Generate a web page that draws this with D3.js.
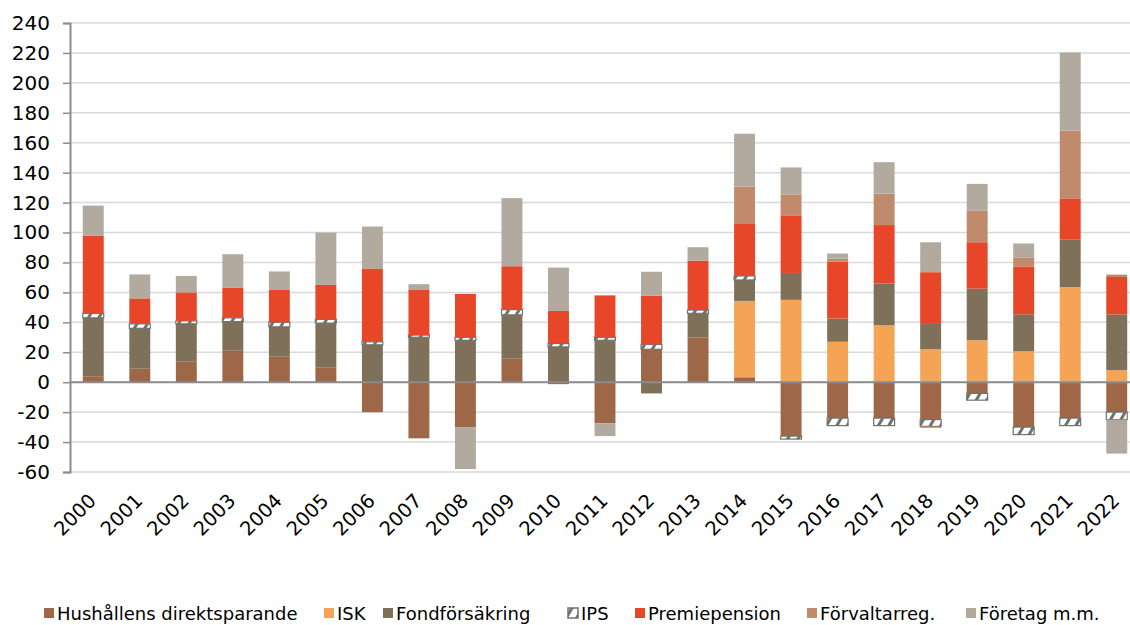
<!DOCTYPE html>
<html>
<head>
<meta charset="utf-8">
<script src="https://cdn.jsdelivr.net/npm/d3@7"></script>
<style>
  html, body { margin: 0; padding: 0; background: #fff; }
  svg { display: block; font-family: "DejaVu Sans", Verdana, sans-serif; }
</style>
</head>
<body>
<svg id="chart" width="1130" height="625"></svg>
<script>
const years = ["2000","2001","2002","2003","2004","2005","2006","2007","2008","2009","2010","2011","2012","2013","2014","2015","2016","2017","2018","2019","2020","2021","2022"];
const hushall   = [4, 9, 14, 21, 17, 10, -20, -37.5, -30, 16, -1.3, -27.5, 22, 30, 3.3, -36, -24, -24, -25, -7.5, -30, -24, -20];
const isk       = [0, 0, 0, 0, 0, 0, 0, 0, 0, 0, 0, 0, 0, 0, 51, 55, 27, 38, 22, 28, 20.7, 63.6, 8];
const fondforsakring = [39, 27, 25, 19.5, 20, 29.5, 25, 30, 28, 29, 23.6, 28, -7.5, 16, 14, 18, 15.5, 28, 17.5, 34.5, 24.7, 31.6, 37.3];
const ips       = [3, 3, 2, 2.5, 3, 2.5, 2, 1.5, 2, 3.5, 2.2, 2, 3.3, 2.2, 2.7, -2, -5, -5, -4.5, -4.5, -5, -5, -5];
const premiepension = [52, 17, 19, 20, 22, 23, 49, 30.5, 29, 29, 21.8, 28, 32.5, 33, 34.7, 38.5, 38, 39, 34, 31, 32, 27.6, 25];
const forvaltarreg = [0, 0, 0, 0, 0, 0, 0, 0, 0, 0, 0, 0, 0, 0, 25, 14, 2, 21, -1, 21, 6, 45.3, 1.6];
const foretag   = [20, 16, 11, 22.5, 12, 35, 28, 3.5, -28, 45.5, 29, -8.5, 16, 9, 35.3, 18, 3.5, 21, 20, 18, 9.3, 52.2, -22.7];
const yTicks = [-60, -40, -20, 0, 20, 40, 60, 80, 100, 120, 140, 160, 180, 200, 220, 240];

const seriesNames = ["Hushållens direktsparande", "ISK", "Fondförsäkring", "IPS", "Premiepension", "Förvaltarreg.", "Företag m.m."];
const seriesValues = [hushall, isk, fondforsakring, ips, premiepension, forvaltarreg, foretag];
const colors = ["#9E6848", "#F5A455", "#7F705A", "url(#ipsPattern)", "#E84628", "#C08B6C", "#B3AA9F"];

const rows = years.map((y, i) => {
  const r = { year: y };
  seriesNames.forEach((n, k) => r[n] = seriesValues[k][i]);
  return r;
});

const svg = d3.select("#chart");
const defs = svg.append("defs");
const pat = defs.append("pattern")
  .attr("id", "ipsPattern")
  .attr("patternUnits", "userSpaceOnUse")
  .attr("width", 9).attr("height", 9)
  .attr("patternTransform", "rotate(30)");
pat.append("rect").attr("width", 9).attr("height", 9).attr("fill", "#ffffff");
pat.append("rect").attr("x", 0).attr("y", 0).attr("width", 3).attr("height", 9).attr("fill", "#6E736C");

const x = d3.scaleBand().domain(years).range([70, 1140]).paddingInner(0.55).paddingOuter(0.275);
const y = d3.scaleLinear().domain([-60, 240]).range([472, 23]);

// grid
svg.append("g").selectAll("line").data(yTicks).join("line")
  .attr("x1", 70).attr("x2", 1130)
  .attr("y1", d => y(d)).attr("y2", d => y(d))
  .attr("stroke", "#d9d9d9").attr("stroke-width", 1.5);

const stack = d3.stack().keys(seriesNames).offset(d3.stackOffsetDiverging);
const stacked = stack(rows);

svg.append("g").selectAll("g").data(stacked).join("g")
  .attr("fill", (d, i) => colors[i])
  .attr("stroke", (d, i) => i === 3 ? "#6E736C" : "none")
  .attr("stroke-width", (d, i) => i === 3 ? 1.2 : 0)
  .selectAll("rect").data(d => d.filter(p => p[1] - p[0] !== 0)).join("rect")
  .attr("x", d => x(d.data.year))
  .attr("width", x.bandwidth())
  .attr("y", d => y(Math.max(d[0], d[1])))
  .attr("height", d => Math.abs(y(d[0]) - y(d[1])));

// zero line
svg.append("line").attr("x1", 70).attr("x2", 1130).attr("y1", y(0)).attr("y2", y(0))
  .attr("stroke", "#8c8c8c").attr("stroke-width", 2);

// y axis
const yAxis = d3.axisLeft(y).tickValues(yTicks).tickSize(7).tickPadding(13).tickFormat(d3.format("d"));
const ya = svg.append("g").attr("transform", "translate(70,0)").call(yAxis);
ya.select(".domain").attr("stroke", "#8c8c8c").attr("stroke-width", 2);
ya.selectAll(".tick line").attr("stroke", "#8c8c8c").attr("stroke-width", 1.5);
ya.selectAll(".tick text").attr("fill", "#000").style("font-size", "20px").style("font-family", "DejaVu Sans, sans-serif");
ya.selectAll(".tick text").text(d => d < 0 ? "-" + Math.abs(d) : d);

// x labels
svg.append("g").selectAll("text").data(years).join("text")
  .attr("transform", d => `translate(${x(d) + x.bandwidth() / 2 + 4},502) rotate(-45)`)
  .attr("text-anchor", "end")
  .style("font-size", "19.5px")
  .attr("fill", "#000")
  .text(d => d);

// legend
const legendX = [44, 324, 383, 568, 635, 807, 966];
const lg = svg.append("g").selectAll("g").data(seriesNames).join("g")
  .attr("transform", (d, i) => `translate(${legendX[i]},0)`);
lg.append("rect").attr("x", 0).attr("y", 608).attr("width", 10).attr("height", 10)
  .attr("fill", (d, i) => colors[i])
  .attr("stroke", (d, i) => i === 3 ? "#6E736C" : "none")
  .attr("stroke-width", 1.5);
lg.append("text").attr("x", 13).attr("y", 620)
  .style("font-size", "18px").attr("fill", "#000")
  .text(d => d);
</script>
</body>
</html>
